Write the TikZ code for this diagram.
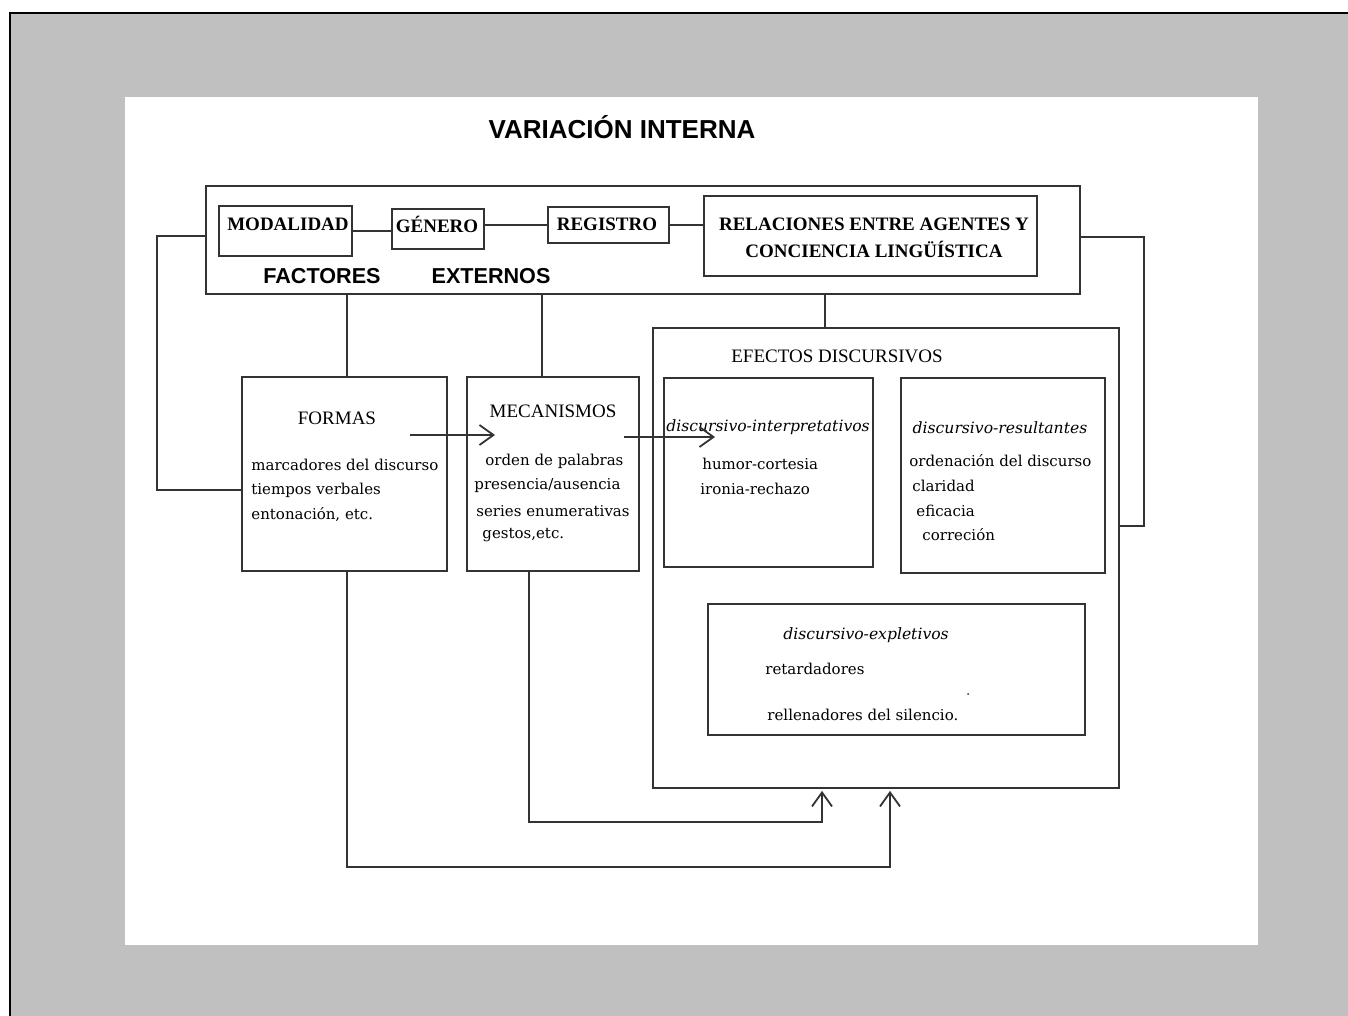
\documentclass[tikz,border=0pt]{standalone}
\usepackage{fontspec}
\setmainfont{Liberation Serif}
\newfontfamily\hsans{Liberation Sans}
\newfontfamily\itemf{DejaVu Serif}
\usetikzlibrary{arrows.meta,fit}
\definecolor{pagegray}{HTML}{C0C0C0}
\definecolor{ln}{HTML}{333333}
\tikzset{
  x=0.5pt,y=-0.5pt,
  box/.style={draw=ln,line width=0.9pt,inner sep=0pt,fill=white},
  conn/.style={draw=ln,line width=0.9pt},
  arr/.style={conn,-{Straight Barb[length=7pt,width=10pt,line width=0.9pt]}},
  hdr/.style={font=\fontsize{9.5}{11}\selectfont\bfseries,inner sep=0pt},
  rtitle/.style={font=\fontsize{9.5}{11}\selectfont,inner sep=0pt},
  itm/.style={font=\itemf\fontsize{7.5}{9}\selectfont,inner sep=0pt,anchor=west},
  ititle/.style={font=\itemf\itshape\fontsize{7.8}{9}\selectfont,inner sep=0pt},
  sanst/.style={font=\hsans\bfseries\fontsize{13}{15}\selectfont,inner sep=0pt},
  sansf/.style={font=\hsans\bfseries\fontsize{10.8}{13}\selectfont,inner sep=0pt}
}
\begin{document}
\begin{tikzpicture}
\useasboundingbox (0,0) rectangle (1348,1016);
% background
\fill[pagegray] (10,13) rectangle (1348,1016);
\draw[black,line width=1.2pt] (10,1016) -- (10,13) -- (1348,13);
\fill[white] (125,97) rectangle (1258,945);

% title
\node[sanst] (title) at (622,127) {VARIACIÓN INTERNA};

% top box
\node[box,fit={(206,186) (1080,294)}] (top) {};
\node[box,fit={(219,206) (352,256)}] (mod) {};
\node[box,fit={(392,209) (484,249)}] (gen) {};
\node[box,fit={(548,207) (669,243)}] (reg) {};
\node[box,fit={(704,196) (1037,276)}] (rel) {};
\node[hdr] (modt) at (288,224) {MODALIDAD};
\node[hdr] (gent) at (437,224) {GÉNERO};
\node[hdr] (regt) at (607,224) {REGISTRO};
\node[hdr] (relt1) at (874,224) {RELACIONES ENTRE AGENTES Y};
\node[hdr] (relt2) at (874,249) {CONCIENCIA LINGÜÍSTICA};
\node[sansf] (fac) at (322,276) {FACTORES};
\node[sansf] (ext) at (491,276) {EXTERNOS};

% connectors in top box
\draw[conn] (mod.east) -- (mod.east -| gen.west);
\draw[conn] (gen.east |- reg.west) -- (reg.west);
\draw[conn] (reg.east) -- (reg.east -| rel.west);

% middle boxes
\node[box,fit={(242,377) (447,571)}] (formas) {};
\node[box,fit={(467,377) (639,571)}] (mec) {};
\node[box,fit={(653,328) (1119,788)}] (efe) {};
\node[box,fit={(664,378) (873,567)}] (int) {};
\node[box,fit={(901,378) (1105,573)}] (res) {};
\node[box,fit={(708,604) (1085,735)}] (exp) {};

% vertical links from top box
\draw[conn] ([xshift=1.25pt]formas.north |- top.south) -- ([xshift=1.25pt]formas.north);
\draw[conn] ([xshift=-5.5pt]mec.north |- top.south) -- ([xshift=-5.5pt]mec.north);
\coordinate (e1) at (825,328);
\draw[conn] (e1 |- top.south) -- (e1);

% side loops
\draw[conn] ([yshift=2pt]top.west) -| ([xshift=-42pt,yshift=-8pt]formas.west) -- ([yshift=-8pt]formas.west);
\draw[conn] ([yshift=1.5pt]top.east) -| ([xshift=12pt,yshift=16pt]efe.east) -- ([yshift=16pt]efe.east);

% texts FORMAS
\node[rtitle] (formt) at (337,418) {FORMAS};
\node[itm] (f1) at (251,465) {marcadores del discurso};
\node[itm] (f2) at (251,490) {tiempos verbales};
\node[itm] (f3) at (251,515) {entonación, etc.};

% texts MECANISMOS
\node[rtitle] (mect) at (553,411) {MECANISMOS};
\node[itm] (m1) at (485,461) {orden de palabras};
\node[itm] (m2) at (474,486) {presencia/ausencia};
\node[itm] (m3) at (476,511) {series enumerativas};
\node[itm] (m4) at (482,535) {gestos,etc.};

% EFECTOS
\node[rtitle] (efet) at (837,356) {EFECTOS DISCURSIVOS};
\node[ititle] (intt) at (768,427) {discursivo-interpretativos};
\node[itm] (i1) at (702,464) {humor-cortesia};
\node[itm] (i2) at (700,489) {ironia-rechazo};
\node[ititle] (rest) at (1000,428) {discursivo-resultantes};
\node[itm] (r1) at (909,461) {ordenación del discurso};
\node[itm] (r2) at (912,486) {claridad};
\node[itm] (r3) at (916,511) {eficacia};
\node[itm] (r4) at (922,535) {correción};
\node[ititle] (expt) at (866,635) {discursivo-expletivos};
\node[itm] (x1) at (765,669) {retardadores};
\node[itm] (x2) at (767,715) {rellenadores del silencio.};
\fill[ln] (968,694) circle (0.5pt);

% horizontal arrows
\coordinate (a1s) at (410,435);
\coordinate (a1e) at (495,435);
\draw[arr] (a1s) -- (a1e);
\coordinate (a2s) at (624,437);
\coordinate (a2e) at (715,437);
\draw[arr] (a2s) -- (a2e);

% bottom arrows
\coordinate (k1) at (529,822);
\coordinate (b1) at ([xshift=-32pt,yshift=-1pt]efe.south);
\draw[arr] ([xshift=-12pt]mec.south) -- (k1) -| (b1);
\coordinate (k2) at (347,867);
\coordinate (b2) at ([xshift=2pt,yshift=-1pt]efe.south);
\draw[arr] ([xshift=1.25pt]formas.south) -- ([xshift=1.25pt]formas.south |- k2) -| (b2);
\end{tikzpicture}
\end{document}
